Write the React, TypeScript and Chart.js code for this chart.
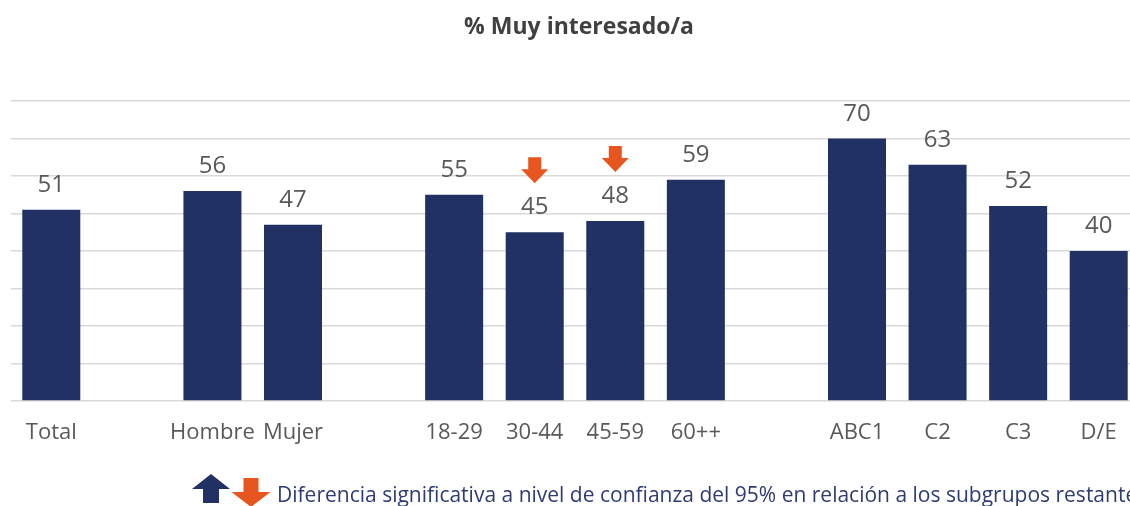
import { useEffect, useRef } from "react";
import { Chart, registerables } from "chart.js";

Chart.register(...registerables);

const categories = ["Total", "", "Hombre", "Mujer", "", "18-29", "30-44", "45-59", "60++", "", "ABC1", "C2", "C3", "D/E"];
const values: (number | null)[] = [51, null, 56, 47, null, 55, 45, 48, 59, null, 70, 63, 52, 40];
const sigDown = [false, false, false, false, false, false, true, true, false, false, false, false, false, false];
const sigUp = [false, false, false, false, false, false, false, false, false, false, false, false, false, false];
const titleText = "% Muy interesado/a";
const legendText = "Diferencia significativa a nivel de confianza del 95% en relación a los subgrupos restantes";
const yMin = 0;
const yMax = 80;
const yStep = 10;

const NAVY = "#223163";
const ORANGE = "#e8561f";
const GRAY = "#595959";
const FONT = "'Open Sans'";
const CANVAS_W = 1160;
const CANVAS_H = 506;

function drawArrow(
  ctx: CanvasRenderingContext2D,
  cx: number,
  top: number,
  total: number,
  headH: number,
  headW: number,
  shaftW: number,
  up: boolean,
  color: string
) {
  ctx.save();
  ctx.fillStyle = color;
  ctx.beginPath();
  if (up) {
    ctx.moveTo(cx, top);
    ctx.lineTo(cx + headW / 2, top + headH);
    ctx.lineTo(cx + shaftW / 2, top + headH);
    ctx.lineTo(cx + shaftW / 2, top + total);
    ctx.lineTo(cx - shaftW / 2, top + total);
    ctx.lineTo(cx - shaftW / 2, top + headH);
    ctx.lineTo(cx - headW / 2, top + headH);
  } else {
    const b = top + total - headH;
    ctx.moveTo(cx - shaftW / 2, top);
    ctx.lineTo(cx + shaftW / 2, top);
    ctx.lineTo(cx + shaftW / 2, b);
    ctx.lineTo(cx + headW / 2, b);
    ctx.lineTo(cx, top + total);
    ctx.lineTo(cx - headW / 2, b);
    ctx.lineTo(cx - shaftW / 2, b);
  }
  ctx.closePath();
  ctx.fill();
  ctx.restore();
}

const overlayPlugin = {
  id: "overlay",
  afterDatasetsDraw(chart: any) {
    const ctx: CanvasRenderingContext2D = chart.ctx;
    const meta = chart.getDatasetMeta(0);
    ctx.save();
    ctx.font = `24px ${FONT}`;
    ctx.fillStyle = GRAY;
    ctx.textAlign = "center";
    ctx.textBaseline = "alphabetic";
    values.forEach((v, i) => {
      if (v === null) return;
      const bar = meta.data[i];
      ctx.fillText(String(v), bar.x, bar.y - 18);
      if (sigDown[i]) drawArrow(ctx, bar.x, bar.y - 49 - 26, 26, 14, 27, 13, false, ORANGE);
      if (sigUp[i]) drawArrow(ctx, bar.x, bar.y - 49 - 26, 26, 14, 27, 13, true, NAVY);
    });
    // title
    ctx.font = `bold 23px ${FONT}`;
    ctx.fillStyle = "#404040";
    ctx.fillText(titleText, 579, 34);
    // legend
    drawArrow(ctx, 211, 474, 29, 15, 38, 16, true, NAVY);
    drawArrow(ctx, 251, 478, 29, 15, 39, 15, false, ORANGE);
    ctx.font = `21px ${FONT}`;
    ctx.fillStyle = "#2f3b73";
    ctx.textAlign = "left";
    ctx.fillText(legendText, 277, 502);
    ctx.restore();
  },
};

export default function App() {
  const ref = useRef<HTMLCanvasElement>(null);
  useEffect(() => {
    if (!ref.current) return;
    const chart = new Chart(ref.current, {
      type: "bar",
      data: {
        labels: categories,
        datasets: [
          {
            data: values as any,
            backgroundColor: NAVY,
            barPercentage: 0.72,
            categoryPercentage: 1,
          },
        ],
      },
      options: {
        responsive: false,
        animation: false,
        devicePixelRatio: 1,
        layout: { padding: { top: 101, left: 11, right: CANVAS_W - 1139, bottom: 0 } },
        plugins: { legend: { display: false }, tooltip: { enabled: false }, title: { display: false } },
        scales: {
          x: {
            grid: { display: false, drawTicks: false },
            border: { display: false },
            ticks: {
              autoSkip: false,
              maxRotation: 0,
              minRotation: 0,
              padding: 19,
              color: GRAY,
              font: { family: "Open Sans", size: 22 },
            },
            afterFit: (s: any) => {
              s.height = 105;
            },
          },
          y: {
            min: yMin,
            max: yMax,
            ticks: { display: false, stepSize: yStep },
            grid: { color: "#d9d9d9", lineWidth: 1.5, drawTicks: false },
            border: { display: false },
            afterFit: (s: any) => {
              s.width = 0;
            },
          },
        },
      },
      plugins: [overlayPlugin],
    });
    return () => chart.destroy();
  }, []);
  return (
    <div style={{ position: "absolute", left: 0, top: 0, width: 1130, height: 506, overflow: "hidden", background: "#fff" }}>
      <canvas ref={ref} width={CANVAS_W} height={CANVAS_H} style={{ display: "block" }} />
    </div>
  );
}
